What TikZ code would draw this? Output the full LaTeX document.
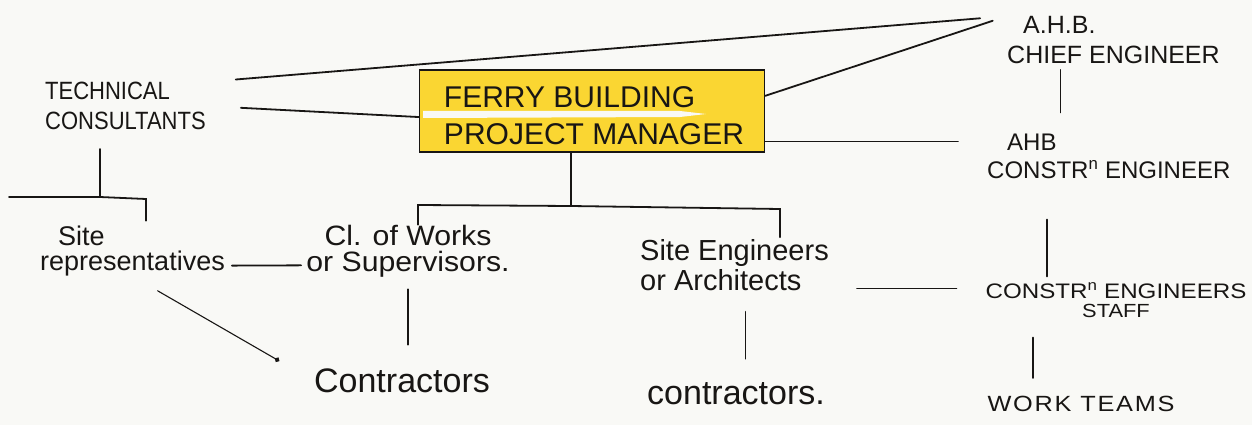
\documentclass[tikz,border=0pt]{standalone}
\usepackage{fontspec}
\setmainfont{Liberation Sans}
\usetikzlibrary{arrows.meta}

\definecolor{paper}{RGB}{249,249,246}
\definecolor{ink}{RGB}{24,22,20}
\definecolor{wash}{RGB}{250,214,50}

\begin{document}
\begin{tikzpicture}[x=1pt,y=1pt,yscale=-1,xscale=1,
		pen/.style={draw=ink, line width=1.8pt, line cap=round},
		txt/.style n args={4}{inner sep=0pt, text=ink, font={\fontsize{#1}{#2}\selectfont\addfontfeatures{FakeStretch=#3, LetterSpace=#4}}},
		mgrbox/.style={draw=ink, line width=1.4pt, fill=wash, inner sep=0pt, minimum width=345pt, minimum height=82pt}]

		% Sheet of paper, also fixes the size
		\path[use as bounding box, fill=paper] (0,0) rectangle (1252,425);

		% Manager box, with the unpainted streak between its two lines
		\node (ferry) [mgrbox] at (592,111) {};
		\fill[paper] (423,111) -- (680,111) -- (706,114) -- (680,117) -- (423,118) -- cycle;
		\node (ferrytext) [txt={30}{37}{1}{0}, align=left] at (594,116) {FERRY BUILDING\\PROJECT MANAGER};

		% Top row: consultants and the A.H.B. people
		\node (tech) [anchor=west][txt={25}{30}{0.88}{0}, align=left] at (45,106) {TECHNICAL\\CONSULTANTS};
		\node (chief) [anchor=west][txt={25}{30}{1}{0}, align=left] at (1007,40) {\hspace*{16pt}A.H.B.\\CHIEF ENGINEER};
		\node (constr) [anchor=west][txt={24}{28}{1}{0}, align=left] at (987,156) {\hspace*{20pt}AHB\\CONSTR\textsuperscript{n} ENGINEER};

		% Middle row
		\node (siterep) [anchor=west][txt={27}{25}{1}{0}, align=left] at (40,251) {\hspace*{18pt}Site\\representatives};
		\node (clerk) [txt={28}{26}{1.08}{0}, align=center] at (408,251) {Cl. of Works\\or Supervisors.};
		\node (siteeng) [anchor=west][txt={29}{30}{1}{0}, align=left] at (640,265) {Site Engineers\\or Architects};
		\node (staff) [txt={21}{19}{1.15}{0}, align=center] at (1116,300) {CONSTR\textsuperscript{n} ENGINEERS\\{\fontsize{19}{19}\selectfont STAFF}};

		% Bottom row
		\node (contractA) [txt={34}{34}{1}{0}] at (402,381) {Contractors};
		\node (contractB) [txt={34}{34}{1}{0}] at (736,394) {contractors.};
		\node (teams) [txt={22}{22}{1.15}{8}] at (1081,404) {WORK TEAMS};

		% Junctions of the two bars
		\coordinate (techfoot) at (100,197);
		\coordinate (repleft) at (9,197);
		\coordinate (reptick) at (146,199);
		\coordinate (mgrfoot) at (571,206);
		\coordinate (clerktick) at (418,205);
		\coordinate (engtick) at (780,209);

		% Lines out of the consultants
		\draw[pen, shorten <=30pt, shorten >=27pt] (tech.north east) -- (chief.north west);
		\draw[pen, shorten <=35pt] (tech.east) -- (ferry.182);

		% Lines out of the manager box to the right
		\draw[pen, shorten >=15pt] (ferry.5) -- (chief.north west);
		\draw[pen, shorten >=29pt] (ferry.-10) -- (ferry.-10 -| constr.west);

		% A.H.B. chain down the right side
		\draw[pen, shorten <=6pt, shorten >=21pt] ([xshift=-53pt]chief.south) -- ([xshift=-53pt]chief.south |- constr.north);
		\draw[pen, shorten <=41pt, shorten >=6pt] ([xshift=-62pt]constr.south) -- ([xshift=-62pt]constr.south |- staff.north);
		\draw[pen, shorten <=20pt, shorten >=18pt] ([xshift=-48pt]teams.north |- staff.south) -- ([xshift=-48pt]teams.north);

		% Bar under the consultants
		\draw[pen, shorten <=19pt] (tech.south -| techfoot) -- (techfoot);
		\draw[pen, shorten >=5pt] (repleft) -- (techfoot) -- (reptick) -- (reptick |- siterep.north);

		% Bar under the manager box
		\draw[pen] (ferry.south -| mgrfoot) -- (mgrfoot);
		\draw[pen, shorten >=2pt] (clerktick |- clerk.north) -- (clerktick) -- (mgrfoot) -- (engtick) -- (engtick |- siteeng.north);

		% Cross links in the middle row
		\draw[pen, shorten <=7pt, shorten >=5pt] (siterep.-9) -- (clerk.188);
		\draw[pen, shorten <=28pt, shorten >=29pt] (siteeng.east |- staff.175) -- (staff.175);

		% Down to the contractors
		\draw[pen, line width=1.1pt, shorten <=29pt, shorten >=40pt, -{Circle[length=5pt]}] (siterep.south) -- (contractA.west);
		\draw[pen, shorten <=12pt, shorten >=24pt] (clerk.south) -- (clerk.south |- contractA.north);
		\draw[pen, shorten <=21pt, shorten >=24pt] ([xshift=11pt]siteeng.south) -- ([xshift=11pt]siteeng.south |- contractB.north);
	\end{tikzpicture}
\end{document}
